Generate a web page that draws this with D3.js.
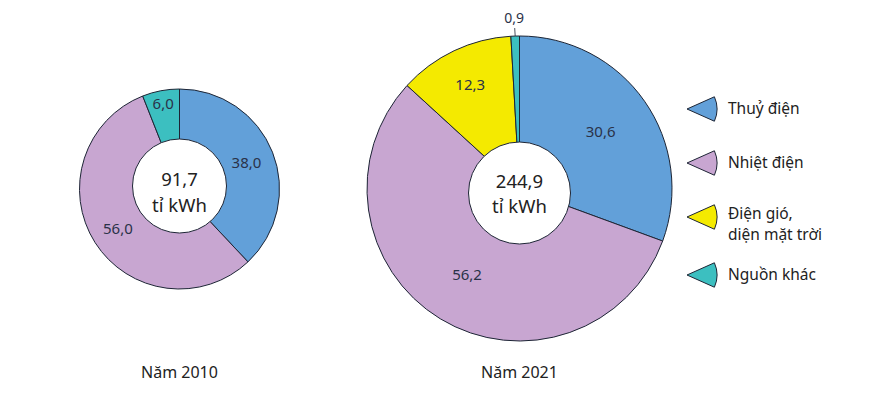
<!DOCTYPE html>
<html><head><meta charset="utf-8">
<script src="https://cdn.jsdelivr.net/npm/d3@7"></script>
<style>body{margin:0;background:#fff;} svg{display:block;}</style>
</head><body>
<svg id="c" width="876" height="400"></svg>
<script>
const categories = ["Thuỷ điện", "Nhiệt điện", "Điện gió, diện mặt trời", "Nguồn khác"];
const legendLines = [["Thuỷ điện"], ["Nhiệt điện"], ["Điện gió,", "diện mặt trời"], ["Nguồn khác"]];
const values2010 = [38.0, 56.0, 0, 6.0];
const values2021 = [30.6, 56.2, 12.3, 0.9];
const years = ["Năm 2010", "Năm 2021"];
const totals = ["91,7", "244,9"];
const unit = "tỉ kWh";
const colors = ["#62a0d9", "#c8a6d1", "#f4ea00", "#3cbfc0"];

const svg = d3.select("#c");
const font = "'Noto Sans', 'Open Sans', sans-serif";
const fmt = v => d3.format(".1f")(v).replace(".", ",");

const charts = [
  {vals: values2010, cx: 179.5, cy: 189, r: 100, ir: 47, icy: 186, lr: [72, 73, 0, 87], title: years[0], total: totals[0], t1: 186, t2: 211.5},
  {vals: values2021, cx: 519.5, cy: 188.5, r: 152.5, ir: 51, icy: 193, lr: [99, 101, 115, 0], title: years[1], total: totals[1], t1: 187.5, t2: 213}
];

const pie = d3.pie().sort(null).value(d => d);
charts.forEach(ch => {
  const g = svg.append("g").attr("transform", `translate(${ch.cx},${ch.cy})`);
  const arcs = pie(ch.vals);
  const arc = d3.arc().innerRadius(0).outerRadius(ch.r);
  g.selectAll("path").data(arcs.filter(a => a.data > 0)).enter().append("path")
    .attr("d", arc).attr("fill", a => colors[a.index])
    .attr("stroke", "#1d2535").attr("stroke-width", 1);
  g.append("circle").attr("cx", 0).attr("cy", ch.icy - ch.cy).attr("r", ch.ir)
    .attr("fill", "#fff").attr("stroke", "#1d2535").attr("stroke-width", 1);
  arcs.forEach(a => {
    if (a.data <= 0) return;
    const mid = (a.startAngle + a.endAngle) / 2;
    if (a.data < 2) {
      const x1 = Math.sin(mid) * ch.r, y1 = -Math.cos(mid) * ch.r;
      g.append("line").attr("x1", x1).attr("y1", y1).attr("x2", x1 - 0.5).attr("y2", y1 - 8)
        .attr("stroke", "#1d2535").attr("stroke-width", 0.8);
      g.append("text").attr("x", x1 - 1).attr("y", y1 - 13).attr("text-anchor", "middle")
        .attr("font-family", font).attr("font-size", 14).attr("fill", "#2a3248").text(fmt(a.data));
      return;
    }
    const lr = ch.lr[a.index];
    g.append("text").attr("x", Math.sin(mid) * lr).attr("y", -Math.cos(mid) * lr)
      .attr("dy", "0.36em").attr("text-anchor", "middle")
      .attr("font-family", font).attr("font-size", 15).attr("fill", "#2a3248").text(fmt(a.data));
  });
  svg.append("text").attr("x", ch.cx).attr("y", ch.t1).attr("text-anchor", "middle")
    .attr("font-family", font).attr("font-size", 18.5).attr("fill", "#222").text(ch.total);
  svg.append("text").attr("x", ch.cx).attr("y", ch.t2).attr("text-anchor", "middle")
    .attr("font-family", font).attr("font-size", 18.5).attr("fill", "#222").text(unit);
  svg.append("text").attr("x", ch.cx).attr("y", 378).attr("text-anchor", "middle")
    .attr("font-family", font).attr("font-size", 16).attr("fill", "#222").text(ch.title);
});

const legY = [109, 163, 217, 275];
const leg = svg.append("g");
categories.forEach((c, i) => {
  const y = legY[i];
  const R = 30, half = 0.42;
  leg.append("path").attr("d", `M687,${y} L${687 + R * Math.cos(half)},${y - R * Math.sin(half)} A${R},${R} 0 0 1 ${687 + R * Math.cos(half)},${y + R * Math.sin(half)} Z`)
    .attr("fill", colors[i]).attr("stroke", "#1d2535").attr("stroke-width", 1);
  const t = leg.append("text").attr("font-family", font).attr("font-size", 15.5).attr("fill", "#222");
  legendLines[i].forEach((ln, j) => {
    t.append("tspan").attr("x", 728).attr("y", y + 5 + j * 21 - (legendLines[i].length - 1) * 3).text(ln);
  });
});
</script>
</body></html>
